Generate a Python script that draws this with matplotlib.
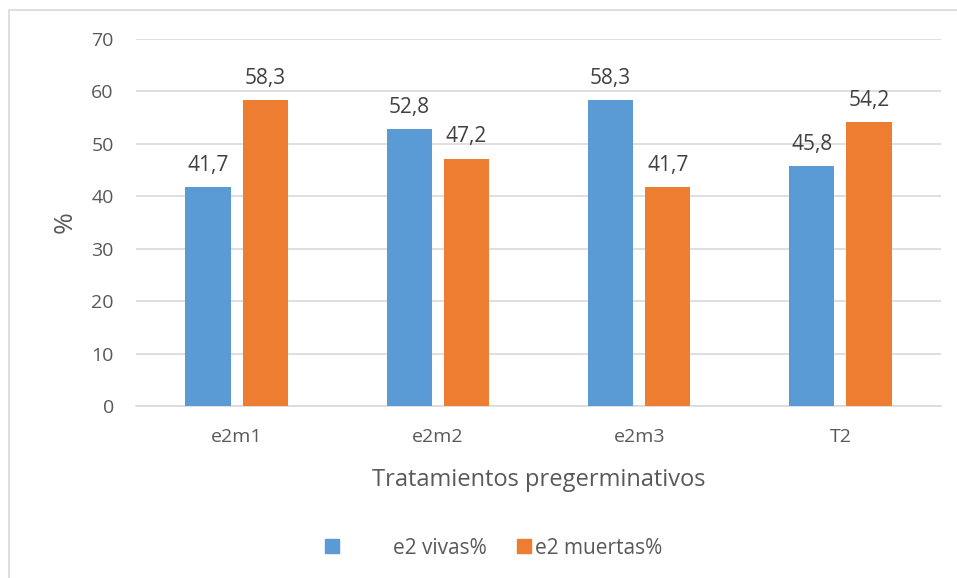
import numpy as np
import matplotlib.pyplot as plt
from matplotlib.patches import Rectangle, Patch

categories = ['e2m1', 'e2m2', 'e2m3', 'T2']
vivas = [41.7, 52.8, 58.3, 45.8]
muertas = [58.3, 47.2, 41.7, 54.2]
series_names = ['e2 vivas%', 'e2 muertas%']

blue = '#5B9BD5'
orange = '#ED7D31'
txt = '#595959'

plt.rcParams['font.family'] = ['Open Sans', 'DejaVu Sans']

fig = plt.figure(figsize=(9.57, 5.78), dpi=100)
ax = fig.add_axes([0.1421, 0.2976, 0.8412, 0.6349])

# outer chart frame
fig.patches.append(Rectangle((9 / 957, -0.1), 1.2, 1 - 10 / 578 + 0.1,
                             transform=fig.transFigure, fill=False,
                             edgecolor='#d9d9d9', linewidth=1.2))

x = np.arange(len(categories))
w = 0.224
off = 0.142
b1 = ax.bar(x - off, vivas, w, color=blue, zorder=3)
b2 = ax.bar(x + off, muertas, w, color=orange, zorder=3)

for bars, vals in ((b1, vivas), (b2, muertas)):
    for r, v in zip(bars, vals):
        ax.annotate(f'{v:.1f}'.replace('.', ','),
                    (r.get_x() + r.get_width() / 2, v),
                    xytext=(0, 8), textcoords='offset points',
                    ha='center', va='bottom', fontsize=15, color='#404040')

ax.set_xlim(-0.5, 3.5)
ax.set_ylim(0, 70)
ax.set_yticks(range(0, 71, 10))
ax.set_xticks(x)
ax.set_xticklabels(categories)
ax.grid(axis='y', color='#d9d9d9', linewidth=1.2, zorder=0)
ax.tick_params(length=0, labelsize=14, colors=txt, pad=16)
ax.tick_params(axis='y', pad=16)
for s in ['top', 'right', 'left']:
    ax.spines[s].set_visible(False)
ax.spines['bottom'].set_color('#d9d9d9')
ax.spines['bottom'].set_linewidth(1.2)

ax.set_xlabel('Tratamientos pregerminativos', fontsize=17, color=txt, labelpad=16)
ax.set_ylabel('%', fontsize=19, color=txt, labelpad=10)

# legend entries: first with a wide gap between swatch and text
fig.legend(handles=[Patch(color=blue)], labels=[series_names[0]],
           loc='center left', bbox_to_anchor=(325 / 957, 1 - 548 / 578),
           frameon=False, fontsize=15, handlelength=0.65, handleheight=0.65,
           handletextpad=2.6, labelcolor=txt, borderpad=0, borderaxespad=0)
fig.legend(handles=[Patch(color=orange)], labels=[series_names[1]],
           loc='center left', bbox_to_anchor=(517 / 957, 1 - 548 / 578),
           frameon=False, fontsize=15, handlelength=0.65, handleheight=0.65,
           handletextpad=0.2, labelcolor=txt, borderpad=0, borderaxespad=0)

fig.savefig('out.png', dpi=100)
